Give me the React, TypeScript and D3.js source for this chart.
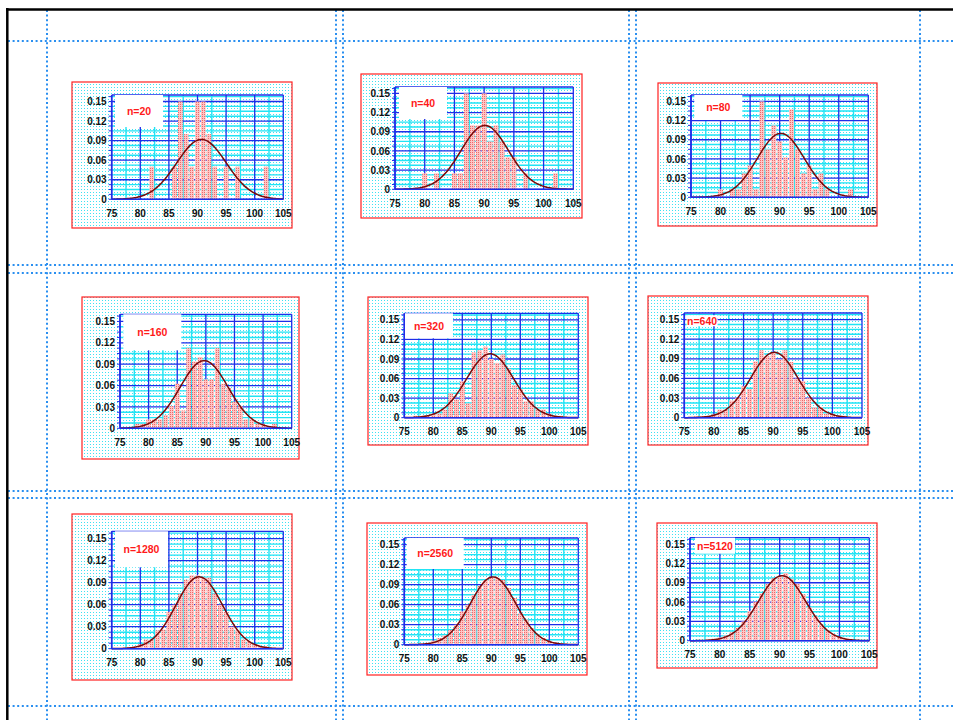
import * as d3 from "d3";

// bin centres shared by every histogram (bin width 1)
const binCenters = [
  76, 77, 78, 79, 80, 81, 82, 83, 84, 85, 86, 87, 88, 89, 90, 91, 92, 93, 94, 95, 96, 97, 98, 99, 100, 101, 102, 103, 104,
];

const n20 = [0, 0, 0, 0, 0, 0, 0.05, 0, 0, 0, 0.05, 0.15, 0.1, 0.05, 0.15, 0.15, 0.1, 0.05, 0, 0.05, 0, 0.05, 0, 0, 0, 0, 0.05, 0, 0];
const n40 = [0, 0, 0, 0, 0.025, 0, 0.025, 0, 0, 0.025, 0.025, 0.15, 0.1, 0.1, 0.15, 0.075, 0.1, 0.075, 0.05, 0.05, 0, 0.025, 0, 0, 0, 0, 0.025, 0, 0];
const n80 = [0, 0, 0, 0, 0.0125, 0, 0.0125, 0.0125, 0.0375, 0.05, 0.0125, 0.15, 0.075, 0.1125, 0.0875, 0.0625, 0.1375, 0.075, 0.0375, 0.05, 0.0125, 0.0375, 0.0125, 0, 0, 0, 0.0125, 0, 0];
const n160 = [0, 0, 0.00625, 0.00625, 0.0125, 0.0125, 0.0125, 0.01875, 0.03125, 0.0625, 0.025, 0.1125, 0.09375, 0.1, 0.06875, 0.06875, 0.1125, 0.0625, 0.05625, 0.0375, 0.03125, 0.0125, 0.0125, 0.00625, 0.00625, 0, 0.00625, 0, 0];
const n320 = [0, 0.003, 0.003, 0.003, 0.006, 0.006, 0.0125, 0.0375, 0.028, 0.056, 0.022, 0.1, 0.103, 0.109, 0.09, 0.084, 0.097, 0.075, 0.05, 0.044, 0.025, 0.025, 0.0125, 0.0125, 0.006, 0.003, 0.003, 0, 0];
const n640 = [0, 0.002, 0.002, 0.003, 0.005, 0.0125, 0.0125, 0.026, 0.03, 0.048, 0.044, 0.086, 0.103, 0.094, 0.1, 0.089, 0.103, 0.085, 0.06, 0.056, 0.03, 0.016, 0.016, 0.006, 0.006, 0.003, 0.003, 0, 0];
const n1280 = [0, 0, 0.002, 0.003, 0.006, 0.0125, 0.0125, 0.025, 0.026, 0.05, 0.06, 0.075, 0.094, 0.1, 0.1, 0.097, 0.097, 0.075, 0.06, 0.05, 0.03, 0.025, 0.0125, 0.01, 0.006, 0.003, 0.003, 0, 0];
const n2560 = [0, 0.001, 0.002, 0.003, 0.006, 0.01, 0.014, 0.022, 0.03, 0.05, 0.06, 0.075, 0.088, 0.097, 0.1, 0.1, 0.097, 0.085, 0.07, 0.047, 0.038, 0.025, 0.015, 0.01, 0.006, 0.003, 0.002, 0.001, 0];
const n5120 = [0, 0.001, 0.002, 0.003, 0.005, 0.008, 0.013, 0.02, 0.03, 0.046, 0.06, 0.073, 0.088, 0.097, 0.1, 0.105, 0.096, 0.088, 0.072, 0.052, 0.038, 0.025, 0.016, 0.01, 0.006, 0.003, 0.002, 0.001, 0];

const sampleSizes = [20, 40, 80, 160, 320, 640, 1280, 2560, 5120];
const histValues = [n20, n40, n80, n160, n320, n640, n1280, n2560, n5120];

// fitted normal curve for each panel
const curveMeans = [90.7, 90.1, 90.2, 89.7, 89.8, 90.2, 90.3, 90.3, 90.4];
const curveSds = [4.34, 3.99, 3.99, 4.2, 4.07, 3.99, 4.07, 3.92, 3.95];

const xTicks = [75, 80, 85, 90, 95, 100, 105];
const yTicks = [0, 0.03, 0.06, 0.09, 0.12, 0.15];

// layout: red frame [x, y, w, h], plot [left, top, right, zeroY], label box [dx, dy, w, h]
const frames = [
  [72, 82, 220, 146], [361, 74, 221, 144], [658, 83, 219, 143],
  [82, 297, 217, 162], [368, 297, 220, 148], [648, 296, 220, 149],
  [72, 514, 220, 166], [367, 523, 220, 152], [657, 523, 220, 145],
];
const plots = [
  [111.7, 95, 283.3, 199.3], [395, 87, 573.3, 189.3], [691, 95, 868.3, 197.3],
  [120, 314.3, 291.7, 428.3], [404.3, 313.3, 578.3, 417.7], [684.3, 313, 862, 417.7],
  [111.7, 531.3, 283.3, 648.7], [404.3, 538, 578.3, 644.7], [690, 537.7, 869.3, 640.7],
];
const labelBoxes = [
  [3.3, 0, 48, 32], [4, 0, 48, 32], [3.3, 0, 48, 25],
  [3.3, 0, 58, 36], [0.7, 0, 48, 25], [2.3, 2.2, 31, 11],
  [3.3, 0, 53, 36], [2.4, 0, 57, 31], [5, 0, 40, 16],
];

const hLines = [41, 265, 273, 491, 498, 706];
const vLines = [47, 336, 343, 629, 636, 920];

const FONT = "'Liberation Sans', Arial, sans-serif";

function Panel({ i }: { i: number }) {
  const [fx, fy, fw, fh] = frames[i];
  const [left, top, right, zero] = plots[i];
  const x = d3.scaleLinear().domain([75, 105]).range([left, right]);
  const y = d3.scaleLinear().domain([0, 0.16]).range([zero, top]);
  const mu = curveMeans[i];
  const sd = curveSds[i];
  const pdf = (v: number) => Math.exp(-((v - mu) ** 2) / (2 * sd * sd)) / (sd * Math.sqrt(2 * Math.PI));
  const line = d3
    .line<number>()
    .x((v) => x(v))
    .y((v) => y(pdf(v)))
    .curve(d3.curveBasis);
  const minorX = d3.range(77.5, 105, 5);
  const minorY = d3.range(0.0075, 0.16, 0.0075).filter((v) => Math.abs(v / 0.03 - Math.round(v / 0.03)) > 0.01);
  const bw = x(1) - x(0);
  const [bx, by, bwid, bh] = labelBoxes[i];

  return (
    <g>
      <rect x={fx} y={fy} width={fw} height={fh} fill="url(#bgdots)" stroke="#ff2020" strokeWidth={1.2} />
      {/* minor grid */}
      {minorX.map((v) => (
        <line key={"mx" + v} x1={x(v)} x2={x(v)} y1={top} y2={zero} stroke="#22e4f4" strokeWidth={1.4} />
      ))}
      {minorY.map((v) => (
        <line key={"my" + v} x1={left} x2={right} y1={y(v)} y2={y(v)} stroke="#22e4f4" strokeWidth={1.4} />
      ))}
      {/* major grid */}
      {xTicks.map((v) => (
        <line key={"gx" + v} x1={x(v)} x2={x(v)} y1={top} y2={zero} stroke="#1f2ee8" strokeWidth={1.3} />
      ))}
      {yTicks.concat([0.16]).map((v) => (
        <line key={"gy" + v} x1={left} x2={right} y1={y(v)} y2={y(v)} stroke="#1f2ee8" strokeWidth={1.3} />
      ))}
      {/* histogram */}
      {binCenters.map((c, k) =>
        histValues[i][k] > 0 ? (
          <rect
            key={"b" + c}
            x={x(c) - bw / 2 + 0.5}
            y={y(histValues[i][k])}
            width={bw - 1}
            height={zero - y(histValues[i][k])}
            fill="url(#pinkdots)"
          />
        ) : null
      )}
      <path d={line(d3.range(75, 105.01, 0.25)) || ""} fill="none" stroke="#7a0a0a" strokeWidth={1.5} />
      {/* y axis ticks */}
      {d3.range(0, 0.1601, 0.0075).map((v) => (
        <line key={"t" + v} x1={left - 3} x2={left} y1={y(v)} y2={y(v)} stroke="#1f2ee8" strokeWidth={1} />
      ))}
      <line x1={left} x2={left} y1={top} y2={zero} stroke="#1f2ee8" strokeWidth={1.6} />
      <line x1={left} x2={right} y1={zero} y2={zero} stroke="#1f2ee8" strokeWidth={1.6} />
      {yTicks.map((v) => (
        <text
          key={"yl" + v}
          x={left - 5}
          y={y(v) + 3.6}
          textAnchor="end"
          fontFamily={FONT}
          fontWeight="bold"
          fontSize={10}
          fill="#111"
        >
          {v === 0 ? "0" : v.toFixed(2)}
        </text>
      ))}
      {xTicks.map((v) => (
        <text
          key={"xl" + v}
          x={x(v)}
          y={zero + 17.5}
          textAnchor="middle"
          fontFamily={FONT}
          fontWeight="bold"
          fontSize={10}
          fill="#111"
        >
          {v}
        </text>
      ))}
      <rect x={left + bx} y={top + by} width={bwid} height={bh} fill="#fff" />
      <text
        x={left + bx + bwid / 2}
        y={top + by + bh / 2 + 3.8}
        textAnchor="middle"
        fontFamily={FONT}
        fontWeight="bold"
        fontSize={10.5}
        fill="#ff1a1a"
      >
        {"n=" + sampleSizes[i]}
      </text>
    </g>
  );
}

export default function App() {
  return (
    <svg
      width={953}
      height={720}
      style={{ position: "absolute", left: 0, top: 0, background: "#fff" }}
    >
      <defs>
        <pattern id="bgdots" patternUnits="userSpaceOnUse" width={3} height={3}>
          <rect width={3} height={3} fill="#fff" />
          <rect width={1} height={1} fill="#3fe2f2" />
        </pattern>
        <pattern id="pinkdots" patternUnits="userSpaceOnUse" width={2} height={2}>
          <rect width={2} height={2} fill="#ffc4c4" />
          <rect width={1} height={1} fill="#ec6a6a" />
        </pattern>
      </defs>
      {hLines.map((v) => (
        <line key={"h" + v} x1={8} x2={953} y1={v} y2={v} stroke="#2a8ff0" strokeWidth={2} strokeDasharray="2 2.6" />
      ))}
      {vLines.map((v) => (
        <line key={"v" + v} x1={v} x2={v} y1={10} y2={720} stroke="#2a8ff0" strokeWidth={2} strokeDasharray="2 2.6" />
      ))}
      <line x1={6} x2={953} y1={9.5} y2={9.5} stroke="#000" strokeWidth={2.5} />
      <line x1={7.3} x2={7.3} y1={8} y2={720} stroke="#000" strokeWidth={2.5} />
      {sampleSizes.map((_, i) => (
        <Panel key={i} i={i} />
      ))}
    </svg>
  );
}
